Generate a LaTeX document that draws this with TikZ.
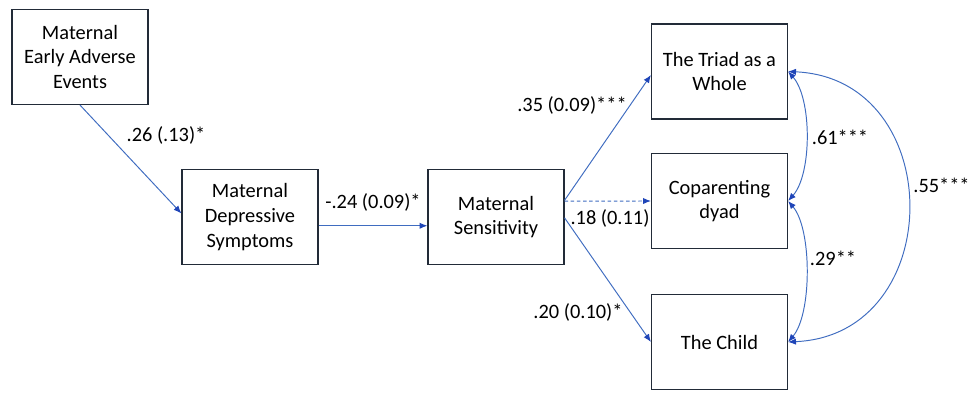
\documentclass[tikz,border=0pt]{standalone}
\usepackage{fontspec}
\setmainfont{Carlito}
\usepackage{tikz}
\usetikzlibrary{arrows.meta,positioning,calc}
\definecolor{pathcol}{HTML}{3F6CC0}
\definecolor{tipcol}{HTML}{1F45B8}
\definecolor{boxcol}{HTML}{222B38}

\begin{document}
\begin{tikzpicture}[
  font=\fontsize{11.6}{14}\selectfont,
  var/.style={draw=boxcol, line width=0.65pt, minimum width=2.72cm, minimum height=1.9cm, align=center, inner sep=2pt},
  effect/.style={draw=pathcol, line width=0.55pt, -{Latex[length=4.5pt,width=3.6pt,color=tipcol]}},
  cov/.style={draw=pathcol, line width=0.55pt, {Latex[length=4.5pt,width=3.6pt,color=tipcol]}-{Latex[length=4.5pt,width=3.6pt,color=tipcol]}},
  coef/.style={inner sep=1pt}
]
\useasboundingbox (0,0) rectangle (19.42,7.86);

% variables
\node[var] (early) at (1.60,6.72) {Maternal\\Early Adverse\\Events};
\node[var] (dep) at (5.00,3.52) {Maternal\\Depressive\\Symptoms};
\node[var] (sens) at (9.92,3.52) {Maternal\\Sensitivity};
\node[var] (triad) at (14.39,6.43) {The Triad as a\\Whole};
\node[var] (copar) at (14.39,3.84) {Coparenting\\dyad};
\node[var] (child) at (14.39,1.02) {The Child};

% paths
\draw[effect] (early.south) -- ([yshift=2pt]dep.west);
\draw[effect] ([yshift=-5pt]dep.east) -- ([yshift=-5pt]sens.west);
\draw[effect] ([yshift=9.5pt]sens.east) -- ([yshift=-2pt]triad.west);
\draw[effect, dash pattern=on 2pt off 1.5pt] ([yshift=9pt]sens.east) -- (copar.west);
\draw[effect] ([yshift=-0.5pt]sens.east) -- (child.west);

% covariances
\draw[cov] (triad.east) .. controls +(0.48,-0.54) and +(0.48,0.54) .. (copar.east);
\draw[cov] (copar.east) .. controls +(0.48,-0.56) and +(0.48,0.56) .. (child.east);
\draw[cov] (triad.east) .. controls +(3.2,-0.14) and +(3.2,0.14) .. (child.east);

% coefficients
\node[coef] (c1) at (3.32,5.16) {.26 (.13)*};
\node[coef] (c2) at (7.46,3.82) {-.24 (0.09)*};
\node[coef] (c3) at (11.44,5.76) {.35 (0.09)***};
\node[coef] (c4) at (12.20,3.50) {.18 (0.11)};
\node[coef] (c5) at (11.56,1.62) {.20 (0.10)*};
\node[coef] (c6) at (16.80,5.12) {.61***};
\node[coef] (c7) at (16.66,2.70) {.29**};
\node[coef, anchor=east, inner sep=0pt] (c8) at (19.40,4.16) {.55***};
\end{tikzpicture}
\end{document}
